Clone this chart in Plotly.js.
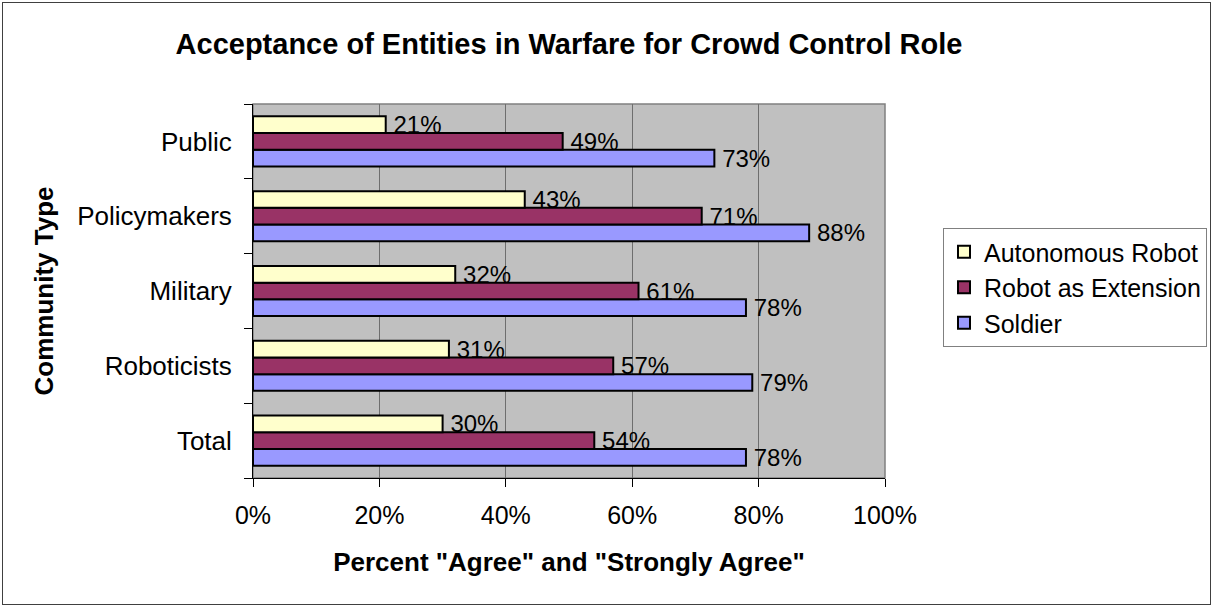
<!DOCTYPE html>
<html>
<head>
<meta charset="utf-8">
<script src="https://cdn.plot.ly/plotly-3.0.1.min.js"></script>
<style>
  html, body { margin: 0; padding: 0; background: #fff; }
  #chart { position: absolute; left: 2px; top: 2px; width: 1209px; height: 603px;
           border: 1px solid #404040; box-sizing: border-box; }
</style>
</head>
<body>
<div id="chart"></div>
<script>
const categories = ["Total", "Roboticists", "Military", "Policymakers", "Public"];
const soldier = [78, 79, 78, 88, 73];
const robotExtension = [54, 57, 61, 71, 49];
const autonomousRobot = [30, 31, 32, 43, 21];
const xTickVals = [0, 20, 40, 60, 80, 100];
const xTickText = ["0%", "20%", "40%", "60%", "80%", "100%"];

const FONT = "Liberation Sans, Arial, sans-serif";

function barTrace(name, vals, color) {
  return {
    type: "bar",
    orientation: "h",
    name: name,
    y: categories,
    x: vals,
    text: vals.map(v => "\u2009" + v + "%"),
    texttemplate: "%{text}",
    textposition: "outside",
    constraintext: "none",
    cliponaxis: false,
    textfont: { family: FONT, size: 24, color: "#000" },
    marker: { color: color, line: { color: "#000", width: 2 } },
    hoverinfo: "skip"
  };
}

const data = [
  barTrace("Soldier", soldier, "#9999FF"),
  barTrace("Robot as Extension", robotExtension, "#993366"),
  barTrace("Autonomous Robot", autonomousRobot, "#FFFFCC")
];

const layout = {
  width: 1207,
  height: 601,
  margin: { l: 250, r: 325, t: 101, b: 126, autoexpand: false },
  paper_bgcolor: "#ffffff",
  plot_bgcolor: "#C0C0C0",
  font: { family: FONT, size: 25, color: "#000" },
  barmode: "group",
  bargap: 0.33,
  bargroupgap: 0,
  showlegend: true,
  title: {
    text: "<b>Acceptance of Entities in Warfare for Crowd Control Role</b>",
    font: { family: FONT, size: 29, color: "#000" },
    x: (569 - 3) / 1207, xanchor: "center",
    y: 1 - 41 / 601, yanchor: "middle"
  },
  xaxis: {
    range: [0, 100],
    tickvals: xTickVals,
    ticktext: xTickText,
    showgrid: true,
    gridcolor: "#6e6e6e",
    gridwidth: 1,
    zeroline: false,
    showline: true,
    linecolor: "#000",
    linewidth: 1,
    ticks: "outside",
    ticklen: 8,
    tickcolor: "#000",
    ticklabelstandoff: 7,
    tickfont: { family: FONT, size: 25 },
    fixedrange: true,
    automargin: false,
    title: {
      text: "<b>Percent \"Agree\" and \"Strongly Agree\"</b>",
      font: { family: FONT, size: 26 },
      standoff: 24
    }
  },
  yaxis: {
    type: "category",
    categoryorder: "array",
    categoryarray: categories,
    showgrid: false,
    showline: true,
    linecolor: "#000",
    linewidth: 1,
    ticks: "outside",
    tickson: "boundaries",
    ticklen: 8,
    tickcolor: "#000",
    ticklabelstandoff: 15,
    tickfont: { family: FONT, size: 26 },
    fixedrange: true,
    automargin: false,
    title: {
      text: "<b>Community Type</b>",
      font: { family: FONT, size: 26 },
      standoff: 16
    }
  },
  legend: {
    x: (943 - 253) / 632,
    xanchor: "left",
    y: (478 - 228) / 374,
    yanchor: "top",
    traceorder: "reversed",
    bgcolor: "#ffffff",
    bordercolor: "#808080",
    borderwidth: 1,
    itemwidth: 30,
    font: { family: FONT, size: 25, color: "#000" }
  },
  shapes: [
    { type: "rect", xref: "paper", yref: "paper", x0: 0, x1: 1, y0: 0, y1: 1,
      line: { color: "#808080", width: 1.5 }, fillcolor: "rgba(0,0,0,0)", layer: "below" }
  ]
};

Plotly.newPlot("chart", data, layout, { displayModeBar: false, staticPlot: true });
</script>
</body>
</html>
